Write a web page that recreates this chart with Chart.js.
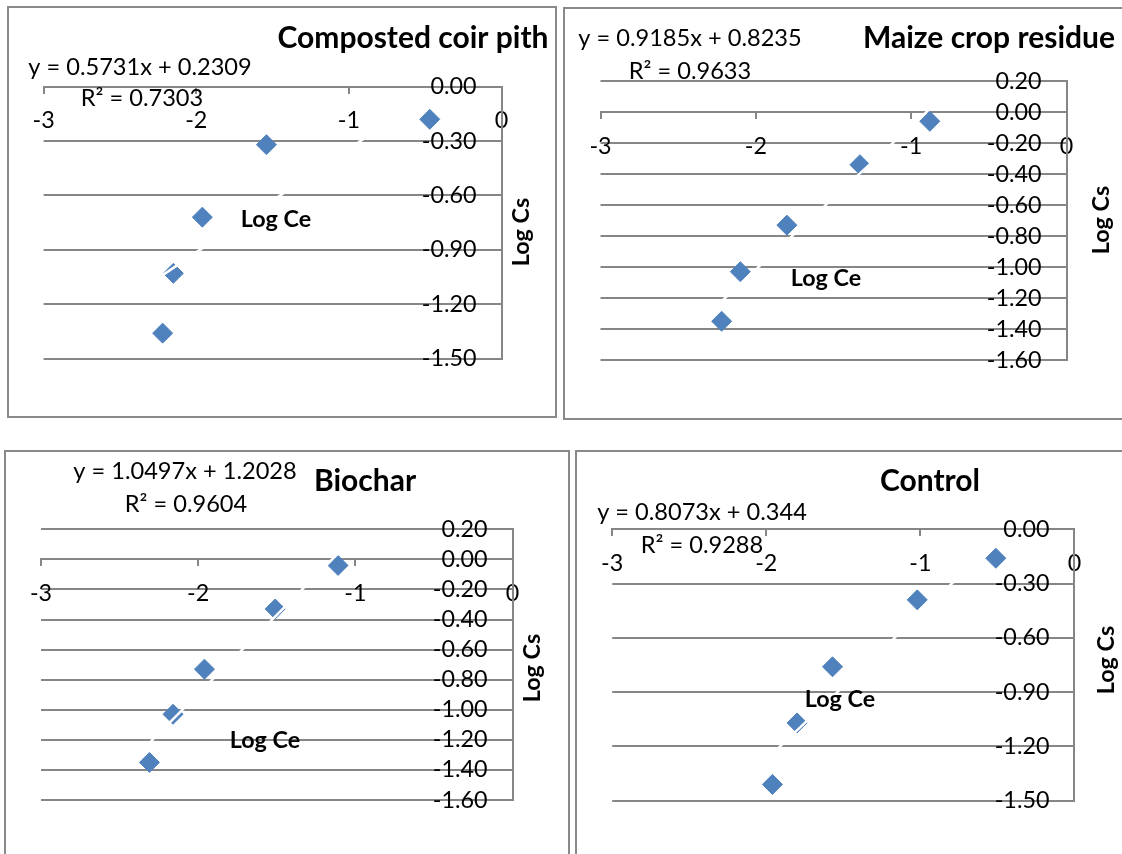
<!DOCTYPE html>
<html>
<head>
<meta charset="utf-8">
<script src="https://cdn.jsdelivr.net/npm/chart.js@4.4.1/dist/chart.umd.min.js"></script>
<style>
  body { margin: 0; width: 1122px; height: 854px; overflow: hidden; background: #fff; }
  .panel { position: absolute; border: 2px solid #898989; box-sizing: border-box; }
  .panel canvas { position: absolute; left: -2px; top: -2px; }
</style>
</head>
<body>
<div class="panel" style="left:7px;top:6px;width:550px;height:412px"><canvas id="c1" width="550" height="412"></canvas></div>
<div class="panel" style="left:563px;top:7px;width:600px;height:413px"><canvas id="c2" width="600" height="413"></canvas></div>
<div class="panel" style="left:4px;top:450px;width:566px;height:500px"><canvas id="c3" width="566" height="500"></canvas></div>
<div class="panel" style="left:575px;top:450px;width:600px;height:500px"><canvas id="c4" width="600" height="500"></canvas></div>
<script>
// values (Log Ce vs Log Cs)
const titles = ['Composted coir pith', 'Maize crop residue', 'Biochar', 'Control'];
const equations = ['y = 0.5731x + 0.2309', 'y = 0.9185x + 0.8235', 'y = 1.0497x + 1.2028', 'y = 0.8073x + 0.344'];
const rSquared = ['R² = 0.7303', 'R² = 0.9633', 'R² = 0.9604', 'R² = 0.9288'];

const coirX = [-0.47, -1.54, -1.96, -2.15, -2.22];
const coirY = [-0.18, -0.32, -0.72, -1.03, -1.36];
const maizeX = [-0.88, -1.33, -1.80, -2.10, -2.22];
const maizeY = [-0.06, -0.34, -0.73, -1.03, -1.35];
const biocharX = [-1.11, -1.51, -1.96, -2.16, -2.31];
const biocharY = [-0.04, -0.33, -0.73, -1.03, -1.35];
const controlX = [-0.51, -1.02, -1.57, -1.80, -1.96];
const controlY = [-0.16, -0.39, -0.76, -1.07, -1.41];

// white trendline ends
const coirTrendX = [-2.22, -0.47], coirTrendY = [-1.04, -0.04];
const maizeTrendX = [-2.22, -0.88], maizeTrendY = [-1.22, 0.02];
const biocharTrendX = [-2.31, -1.11], biocharTrendY = [-1.22, 0.04];
const controlTrendX = [-1.96, -0.51], controlTrendY = [-1.24, -0.07];

// y axis: min, max, step
const yAxisA = [-1.5, 0, 0.3];
const yAxisB = [-1.6, 0.2, 0.2];
const xAxis = [-3, 0, 1];

const FONT = 'Lato';
const GRID = '#868686';
const BLUE = '#4F81BD';

const overlay = {
  id: 'overlay',
  afterDraw(chart, args, opts) {
    const ctx = chart.ctx;
    ctx.save();
    ctx.fillStyle = '#000';
    opts.items.forEach(it => {
      ctx.save();
      ctx.font = it.font;
      ctx.textAlign = 'center';
      ctx.textBaseline = 'alphabetic';
      ctx.translate(it.x, it.y);
      if (it.rotate) ctx.rotate(-Math.PI / 2);
      ctx.fillText(it.text, 0, 0);
      ctx.restore();
    });
    ctx.restore();
  }
};

const pts = (xs, ys) => xs.map((x, i) => ({x: x, y: ys[i]}));

function makeChart(id, i, xs, ys, tx, ty, yAxis, pad, pos) {
  new Chart(document.getElementById(id), {
    type: 'scatter',
    data: {
      datasets: [{
        data: pts(tx, ty),
        showLine: true,
        borderColor: '#ffffff',
        borderWidth: 2.5,
        pointRadius: 0,
        order: 0
      }, {
        data: pts(xs, ys),
        pointStyle: 'rectRot',
        pointRadius: 10,
        backgroundColor: BLUE,
        borderColor: BLUE,
        borderWidth: 1,
        order: 1
      }]
    },
    options: {
      responsive: false,
      animation: false,
      events: [],
      layout: {padding: pad},
      plugins: {
        legend: {display: false},
        tooltip: {enabled: false},
        overlay: {
          items: [
            {text: titles[i], x: pos.title[0], y: pos.title[1], font: 'bold 30px ' + FONT},
            {text: equations[i], x: pos.eq[0], y: pos.eq[1], font: '23.6px ' + FONT},
            {text: rSquared[i], x: pos.r2[0], y: pos.r2[1], font: '23.6px ' + FONT},
            {text: 'Log Ce', x: pos.ce[0], y: pos.ce[1], font: 'bold 23.3px ' + FONT},
            {text: 'Log Cs', x: pos.cs[0], y: pos.cs[1], font: 'bold 23.3px ' + FONT, rotate: true}
          ]
        }
      },
      scales: {
        x: {
          type: 'linear',
          min: xAxis[0],
          max: xAxis[1],
          position: {y: 0},
          afterFit: (s) => { s.height = 0; },
          ticks: {
            stepSize: xAxis[2],
            autoSkip: false,
            maxRotation: 0,
            padding: 14,
            color: '#000',
            font: {family: FONT, size: 23.3}
          },
          grid: {drawOnChartArea: false, drawTicks: true, tickLength: 6, color: GRID, lineWidth: 2},
          border: {color: GRID, width: 2}
        },
        y: {
          type: 'linear',
          position: 'right',
          min: yAxis[0],
          max: yAxis[1],
          afterFit: (s) => { s.width = 0; },
          ticks: {
            stepSize: yAxis[2],
            autoSkip: false,
            mirror: true,
            padding: -25,
            color: '#000',
            font: {family: FONT, size: 23.3, lineHeight: 1},
            callback: (v) => v.toFixed(2)
          },
          grid: {drawTicks: false, color: GRID, lineWidth: 2},
          border: {color: GRID, width: 2}
        }
      }
    },
    plugins: [overlay]
  });
}

makeChart('c1', 0, coirX, coirY, coirTrendX, coirTrendY, yAxisA,
  {left: 36.6, right: 55.5, top: 80.7, bottom: 59.5},
  {title: [406, 42], eq: [133, 69], r2: [135, 100], ce: [269, 221], cs: [522, 226]});
makeChart('c2', 1, maizeX, maizeY, maizeTrendX, maizeTrendY, yAxisB,
  {left: 37.5, right: 96.5, top: 74, bottom: 60},
  {title: [426, 41], eq: [127, 39], r2: [127, 72], ce: [263, 279], cs: [546, 213]});
makeChart('c3', 2, biocharX, biocharY, biocharTrendX, biocharTrendY, yAxisB,
  {left: 37, right: 57.5, top: 79.3, bottom: 150},
  {title: [361, 41], eq: [181, 29], r2: [182, 62], ce: [261, 298], cs: [536, 218]});
makeChart('c4', 3, controlX, controlY, controlTrendX, controlTrendY, yAxisA,
  {left: 37.2, right: 100.6, top: 79.3, bottom: 149.3},
  {title: [355, 41], eq: [127, 70], r2: [127, 103], ce: [265, 257], cs: [539, 210]});
</script>
</body>
</html>
